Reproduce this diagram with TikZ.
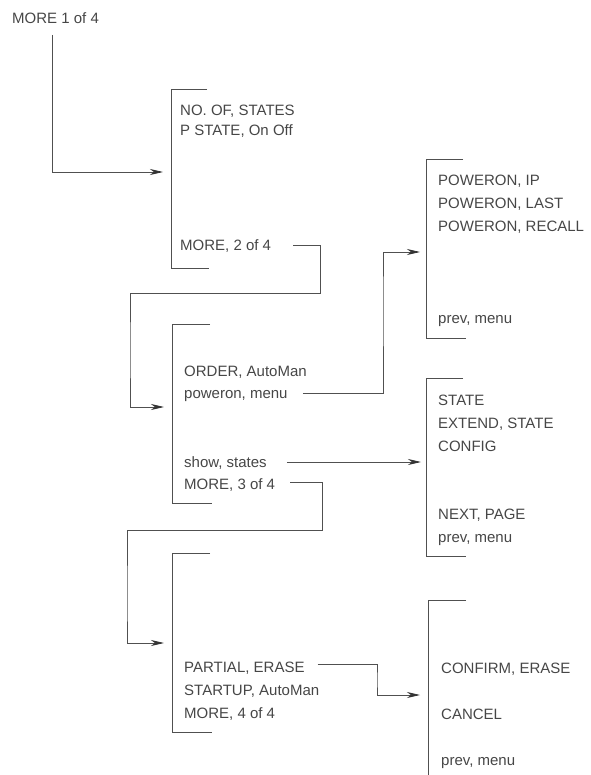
\documentclass[tikz,border=0pt]{standalone}
\usepackage{fontspec}
\setmainfont{Liberation Sans}
\usetikzlibrary{arrows.meta}
\definecolor{txt}{RGB}{70,70,70}
\definecolor{ln}{RGB}{80,80,80}
\begin{document}
\begin{tikzpicture}[x=1pt,y=-1pt,
  lbl/.style={anchor=base west,inner sep=0pt,font=\fontsize{15}{18}\selectfont,text=txt},
  brk/.style={draw=ln,line width=0.8pt},
  arr/.style={draw=ln,line width=0.8pt,-{Stealth[length=13pt,width=6pt,inset=4pt,fill=black!80,color=black!80]}},
  cn/.style={draw=ln,line width=0.8pt}]
\useasboundingbox (0,0) rectangle (590,775);

% brackets
\draw[brk] (207,89) -- (171,89) -- (171,268) -- (209,268);
\draw[brk] (210,324) -- (172,324) -- (172,503) -- (212,503);
\draw[brk] (463,159) -- (426,159) -- (426,338) -- (466,338);
\draw[brk] (463,378) -- (426,378) -- (426,556) -- (466,556);
\draw[brk] (210,553) -- (172,553) -- (172,732) -- (212,732);
\draw[brk] (466,600) -- (428,600) -- (428,775);

% arrow targets
\coordinate (b1in) at (163,172);
\coordinate (b2in) at (164,407);
\coordinate (b3in) at (420,252);
\coordinate (b4in) at (421,462);
\coordinate (b5in) at (164,643);
\coordinate (b6in) at (420,695);

% texts
\node[lbl] (m1) at (12,23.5) {MORE 1 of 4};

\node[lbl] (n1) at (180,115.5) {NO. OF, STATES};
\node[lbl] (n2) at (180,135.5) {P STATE, On Off};
\node[lbl] (m2) at (180,251) {MORE, 2 of 4};

\node[lbl] (o1) at (184,376) {ORDER, AutoMan};
\node[lbl] (pw) at (184,398) {poweron, menu};
\node[lbl] (sh) at (184,467) {show, states};
\node[lbl] (m3) at (184,489) {MORE, 3 of 4};

\node[lbl] (p1) at (438,186) {POWERON, IP};
\node[lbl] (p2) at (438,209) {POWERON, LAST};
\node[lbl] (p3) at (438,232) {POWERON, RECALL};
\node[lbl] (pm1) at (438,323) {prev, menu};

\node[lbl] (s1) at (438,405) {STATE};
\node[lbl] (s2) at (438,428) {EXTEND, STATE};
\node[lbl] (s3) at (438,451) {CONFIG};
\node[lbl] (s4) at (438,519) {NEXT, PAGE};
\node[lbl] (pm2) at (438,542) {prev, menu};

\node[lbl] (e1) at (184,672) {PARTIAL, ERASE};
\node[lbl] (e2) at (184,695) {STARTUP, AutoMan};
\node[lbl] (m4) at (184,718) {MORE, 4 of 4};

\node[lbl] (c1) at (441,673) {CONFIRM, ERASE};
\node[lbl] (c2) at (441,719) {CANCEL};
\node[lbl] (pm3) at (441,765) {prev, menu};

% connectors
\draw[arr] (m1.base west) ++(40,11.5) |- (b1in);
\draw[arr] (m2.base east) ++(22,-5.5) -| (320,293) -| (130,350) |- (b2in);
\draw[arr] (pw.base east) ++(15,-5) -| (383,300) |- (b3in);
\draw[arr] (sh.base east) ++(20,-5) -- (b4in);
\draw[arr] (m3.base east) ++(15,-7) -| (322,530) -| (127,600) |- (b5in);
\draw[arr] (e1.base east) ++(13,-8) -| (377,680) |- (b6in);
\end{tikzpicture}
\end{document}
